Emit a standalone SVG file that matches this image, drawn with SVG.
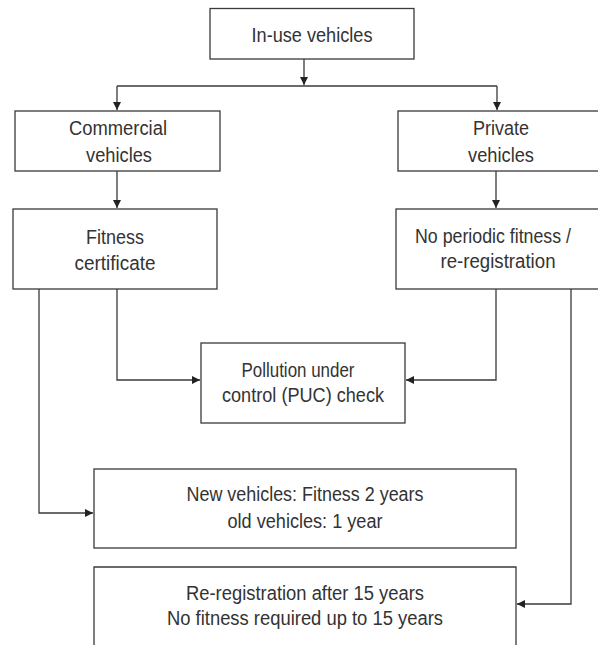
<svg xmlns="http://www.w3.org/2000/svg" width="598" height="645" viewBox="0 0 598 645">
<style>
.box{fill:#fff;stroke:#3a3a3a;stroke-width:1.3}
.t{font-family:"Liberation Sans",Arial,sans-serif;font-size:19.5px;fill:#333;text-anchor:middle}
.c{fill:none;stroke:#3a3a3a;stroke-width:1.3}
</style>
<defs>
<marker id="ah" markerUnits="userSpaceOnUse" markerWidth="10" markerHeight="10" refX="8" refY="4" orient="auto">
<path d="M0,0 L8,4 L0,8 Z" fill="#222"/>
</marker>
</defs>
<rect width="598" height="645" fill="#fff"/>
<g id="connectors">
<path class="c" d="M304,59 V85" marker-end="url(#ah)"/>
<path class="c" d="M117,86 H497"/>
<path class="c" d="M117,86 V110" marker-end="url(#ah)"/>
<path class="c" d="M497,86 V110" marker-end="url(#ah)"/>
<path class="c" d="M117,171 V208" marker-end="url(#ah)"/>
<path class="c" d="M496,171 V208" marker-end="url(#ah)"/>
<path class="c" d="M117,289 V380 H200" marker-end="url(#ah)"/>
<path class="c" d="M496,289 V380 H406" marker-end="url(#ah)"/>
<path class="c" d="M39,289 V513 H93" marker-end="url(#ah)"/>
<path class="c" d="M571,289 V604 H517" marker-end="url(#ah)"/>
</g>
<g id="in-use">
<rect class="box" x="210" y="8.5" width="204" height="50.5"/>
<text class="t" x="312" y="42" textLength="121" lengthAdjust="spacingAndGlyphs">In-use vehicles</text>
</g>
<g id="commercial">
<rect class="box" x="15" y="111" width="205" height="60"/>
<text class="t" x="118" y="135" textLength="98" lengthAdjust="spacingAndGlyphs">Commercial</text>
<text class="t" x="119" y="162" textLength="66" lengthAdjust="spacingAndGlyphs">vehicles</text>
</g>
<g id="private">
<rect class="box" x="398" y="111" width="215" height="60"/>
<text class="t" x="501" y="135" textLength="56" lengthAdjust="spacingAndGlyphs">Private</text>
<text class="t" x="501" y="162" textLength="66" lengthAdjust="spacingAndGlyphs">vehicles</text>
</g>
<g id="fitness">
<rect class="box" x="13" y="209" width="204" height="80"/>
<text class="t" x="115" y="244" textLength="58" lengthAdjust="spacingAndGlyphs">Fitness</text>
<text class="t" x="115" y="270" textLength="81" lengthAdjust="spacingAndGlyphs">certificate</text>
</g>
<g id="no-periodic">
<rect class="box" x="396" y="209" width="217" height="80"/>
<text class="t" x="493" y="243" textLength="156" lengthAdjust="spacingAndGlyphs">No periodic fitness /</text>
<text class="t" x="498" y="268" textLength="115" lengthAdjust="spacingAndGlyphs">re-registration</text>
</g>
<g id="puc">
<rect class="box" x="201" y="343" width="204" height="80"/>
<text class="t" x="298" y="377" textLength="113" lengthAdjust="spacingAndGlyphs">Pollution under</text>
<text class="t" x="303" y="402" textLength="162" lengthAdjust="spacingAndGlyphs">control (PUC) check</text>
</g>
<g id="new-vehicles">
<rect class="box" x="94" y="469" width="422" height="79"/>
<text class="t" x="305" y="501" textLength="237" lengthAdjust="spacingAndGlyphs">New vehicles: Fitness 2 years</text>
<text class="t" x="305" y="528" textLength="155" lengthAdjust="spacingAndGlyphs">old vehicles: 1 year</text>
</g>
<g id="re-registration">
<path class="box" d="M94,652 V567 H516 V652"/>
<text class="t" x="305" y="600" textLength="238" lengthAdjust="spacingAndGlyphs">Re-registration after 15 years</text>
<text class="t" x="305" y="625" textLength="276" lengthAdjust="spacingAndGlyphs">No fitness required up to 15 years</text>
</g>
</svg>
